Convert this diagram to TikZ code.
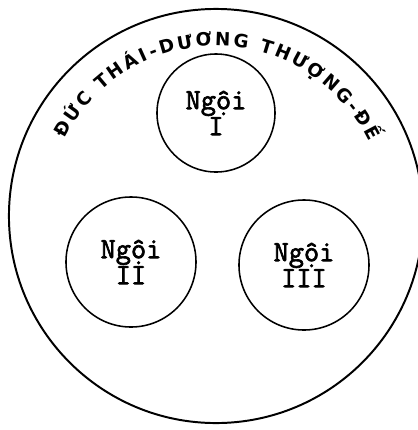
\documentclass[tikz,border=0pt]{standalone}
\usepackage{fontspec}
\newfontfamily\arcfont{DejaVu Sans}
\newfontfamily\maychu[FakeBold=2.2]{Latin Modern Mono}
\usetikzlibrary{calc,decorations.text}
\tikzset{
  vong/.style={draw,circle,line width=1.4pt,inner sep=0pt,minimum size=10.35cm},
  ngoi/.style={draw,circle,line width=1.1pt,inner sep=0pt,align=center,
    font=\fontsize{21}{18.5}\selectfont\maychu},
  nho/.style={minimum size=2.95cm},
  lon/.style={minimum size=3.25cm}
}
\begin{document}
\begin{tikzpicture}[x=0.025cm,y=-0.025cm]
\useasboundingbox (0,0) rectangle (418,430);
\node[vong] (ngoai) at (216,216) {};
\node[ngoi,nho] (n1) at (216,113) {Ngội\\I};
\node[ngoi,lon] (n2) at (131,262) {Ngội\\II};
\node[ngoi,lon] (n3) at (304,265) {Ngội\\III};
% chu vong cung
\path[decorate,decoration={text along path,text align=fit to path,
  text={|\arcfont\bfseries\fontsize{13}{14}\selectfont|ĐỨC THÁI-DƯƠNG THƯỢNG-ĐẾ}}]
  ($(ngoai.center)+(-153:170)$) arc[start angle=-153,end angle=-26,radius=170];
\end{tikzpicture}
\end{document}
